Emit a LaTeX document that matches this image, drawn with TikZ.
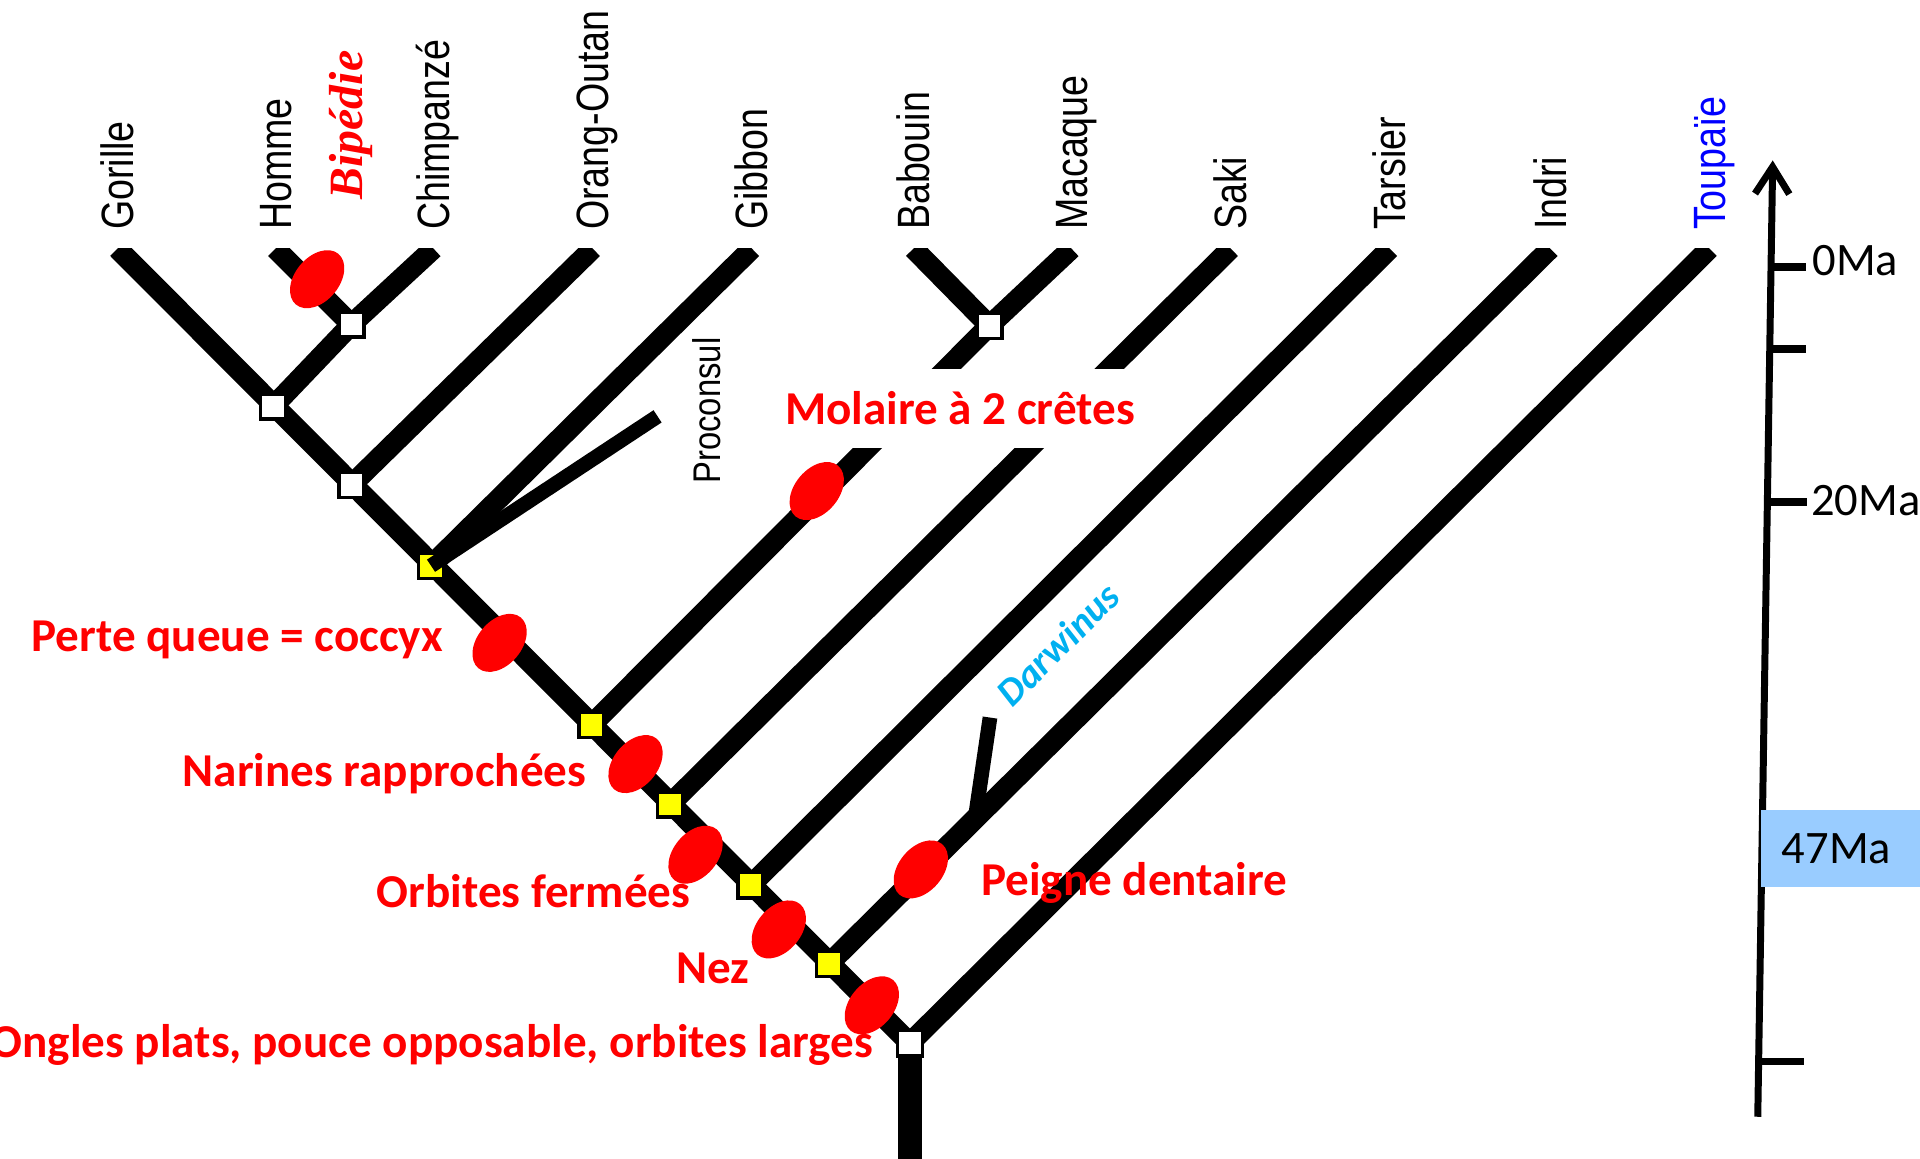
\documentclass[tikz,border=0pt]{standalone}
\usepackage{fontspec}
\usepackage{graphicx}
\usetikzlibrary{positioning, arrows.meta, shapes.geometric}
\setmainfont{Carlito}
\newfontfamily\taxfont{Liberation Sans}
\newfontfamily\bipfont{Liberation Serif}
\definecolor{apored}{RGB}{255, 0, 0}
\definecolor{nodeyel}{RGB}{255, 255, 0}
\definecolor{fossilblue}{RGB}{0, 176, 240}
\definecolor{outblue}{RGB}{0, 0, 255}
\definecolor{agebox}{RGB}{153, 204, 255}
\newcommand{\taxname}[1]{\scalebox{0.83}[1]{#1}}

\begin{document}
\begin{tikzpicture}[
    x=1pt, y=-1pt,
    branch/.style={line width=17pt, line cap=square},
    nd/.style={
        draw,
        line width=2.8pt,
        fill=#1,
        minimum size=20.5pt,
        inner sep=0pt
    },
    nd/.default=white,
    apo/.style={ellipse, fill=apored, minimum width=54pt, minimum height=36pt, inner sep=0pt, rotate=50},
    apolbl/.style={font=\fontsize{38.5}{40}\selectfont\bfseries, text=apored, inner sep=0pt},
    taxon/.style={font=\taxfont\fontsize{37}{40}\selectfont, rotate=90, anchor=base west, inner sep=0pt},
    agelbl/.style={font=\fontsize{38}{40}\selectfont, anchor=base west, inner sep=0pt}
]
\useasboundingbox (0,0) rectangle (1568,946);

% === Tips and branching points ===
\coordinate (tGor) at (96,203);
\coordinate (tHom) at (225,203);
\coordinate (tChi) at (354,203);
\coordinate (tOra) at (484,203);
\coordinate (tGib) at (614,203);
\coordinate (tBab) at (746,203);
\coordinate (tMac) at (875,203);
\coordinate (tSak) at (1005,203);
\coordinate (tTar) at (1135,203);
\coordinate (tInd) at (1266,203);
\coordinate (tTou) at (1396,203);

\coordinate (cHC) at (287,265);
\coordinate (cGHC) at (223,332);
\coordinate (cOra) at (287,396);
\coordinate (cGib) at (352,462);
\coordinate (cBM) at (808,266);
\coordinate (cOWM) at (483,592);
\coordinate (cSak) at (547,657);
\coordinate (cTar) at (613,723);
\coordinate (cInd) at (677,787);
\coordinate (cRoot) at (743,852);
\coordinate (base) at (743,960);

% === Fossils ===
\coordinate (procTop) at (537,340);
\coordinate (darTop) at (808.5,586);
\coordinate (darBot) at (797,664);
\draw[line width=12pt] (darTop) -- (darBot);

% === Branches ===
\begin{scope}
\clip (0,203) rectangle (1568,960);
\draw[branch] (tGor) -- (cRoot);
\draw[branch] (tHom) -- (cHC) -- (cGHC);
\draw[branch] (tChi) -- (cHC);
\draw[branch] (tOra) -- (cOra);
\draw[branch] (tGib) -- (cGib);
\draw[branch] (tBab) -- (cBM) -- (cOWM);
\draw[branch] (tMac) -- (cBM);
\draw[branch] (tSak) -- (cSak);
\draw[branch] (tTar) -- (cTar);
\draw[branch] (tInd) -- (cInd);
\draw[branch] (tTou) -- (cRoot);
\draw[line width=20pt] (cRoot) -- (base);
\end{scope}

% white band behind the molar label
\node[fill=white, minimum width=308pt, minimum height=65pt, inner sep=0pt] (gap) at (786,333.5) {};
\node[apolbl, anchor=base west] (lMol) at (641,347) {Molaire à 2 crêtes};

% === Nodes ===
\node[nd] (nHC) at (cHC) {};
\node[nd] (nGHC) at (cGHC) {};
\node[nd] (nOra) at (cOra) {};
\node[nd=nodeyel] (nGib) at (cGib) {};
\node[nd] (nBM) at (cBM) {};
\node[nd=nodeyel] (nOWM) at (cOWM) {};
\node[nd=nodeyel] (nSak) at (cSak) {};
\node[nd=nodeyel] (nTar) at (cTar) {};
\node[nd=nodeyel] (nInd) at (cInd) {};
\node[nd] (nRoot) at (cRoot) {};

\draw[line width=12pt] (nGib.center) -- (procTop);

% === Characters ===
\node[apo] (eBip) at (259,228) {};
\node[apo] (eQueue) at (408,525) {};
\node[apo] (eMol) at (667,401) {};
\node[apo] (eNar) at (519,624) {};
\node[apo] (eOrb) at (568,698) {};
\node[apo] (eNez) at (636,759) {};
\node[apo] (eOng) at (712,821) {};
\node[apo] (ePei) at (752,710) {};

\node[apolbl, anchor=base east] (lQueue) at (362,532) {Perte queue = coccyx};
\node[apolbl, anchor=base east] (lNar) at (479,642) {Narines rapprochées};
\node[apolbl, anchor=base east] (lOrb) at (564,741) {Orbites fermées};
\node[apolbl, anchor=base east] (lNez) at (612,803) {Nez};
\node[apolbl, anchor=base east] (lOng) at (713,864) {Ongles plats, pouce opposable, orbites larges};
\node[apolbl, anchor=base west] (lPei) at (801,731) {Peigne dentaire};

% === Taxa ===
\node[taxon] (lGor) at ([xshift=13pt, yshift=15pt]tGor) {\taxname{Gorille}};
\node[taxon] (lHom) at ([xshift=13pt, yshift=15pt]tHom) {\taxname{Homme}};
\node[taxon] (lChi) at ([xshift=13pt, yshift=15pt]tChi) {\taxname{Chimpanzé}};
\node[taxon] (lOra) at ([xshift=13pt, yshift=15pt]tOra) {\taxname{Orang-Outan}};
\node[taxon] (lGib) at ([xshift=13pt, yshift=15pt]tGib) {\taxname{Gibbon}};
\node[taxon] (lBab) at ([xshift=13pt, yshift=15pt]tBab) {\taxname{Babouin}};
\node[taxon] (lMac) at ([xshift=13pt, yshift=15pt]tMac) {\taxname{Macaque}};
\node[taxon] (lSak) at ([xshift=13pt, yshift=15pt]tSak) {\taxname{Saki}};
\node[taxon] (lTar) at ([xshift=13pt, yshift=15pt]tTar) {\taxname{Tarsier}};
\node[taxon] (lInd) at ([xshift=13pt, yshift=15pt]tInd) {\taxname{Indri}};
\node[taxon, text=outblue] (lTou) at ([xshift=13pt, yshift=15pt]tTou) {\taxname{Toupaïe}};

\node[rotate=90, anchor=base west, inner sep=0pt, text=apored, font=\bipfont\bfseries\itshape\fontsize{39}{40}\selectfont] (lBip) at (296,163) {Bipédie};
\node[rotate=90, anchor=base west, inner sep=0pt, font=\taxfont\fontsize{31.5}{34}\selectfont] (lProc) at (588,395) {\scalebox{0.85}[1]{Proconsul}};
\node[rotate=45, anchor=base west, inner sep=0pt, text=fossilblue, font=\bfseries\itshape\fontsize{32}{34}\selectfont] (lDar) at (827,579) {Darwinus};

% === Time scale ===
\coordinate (axBot) at (1435.5,912);
\coordinate (axTop) at (1447.7,131);
\draw[line width=5.7pt, -{Straight Barb[length=22pt, width=28pt]}] (axBot) -- (axTop);
\draw[line width=6pt] (1446.3,218) -- (1475,218);
\draw[line width=6pt] (1445.3,285) -- (1475,285);
\draw[line width=6pt] (1443.3,410) -- (1476,410);
\draw[line width=6pt] (1436.2,867) -- (1473,867);
\node[agelbl] (a0) at (1480,225) {0Ma};
\node[agelbl] (a20) at (1479,421) {20Ma};
\node[fill=agebox, anchor=north west, minimum width=140pt, minimum height=63pt, inner sep=0pt] (box47) at (1438,661) {};
\node[agelbl] (a47) at (1455,705) {47Ma};

\end{tikzpicture}
\end{document}
